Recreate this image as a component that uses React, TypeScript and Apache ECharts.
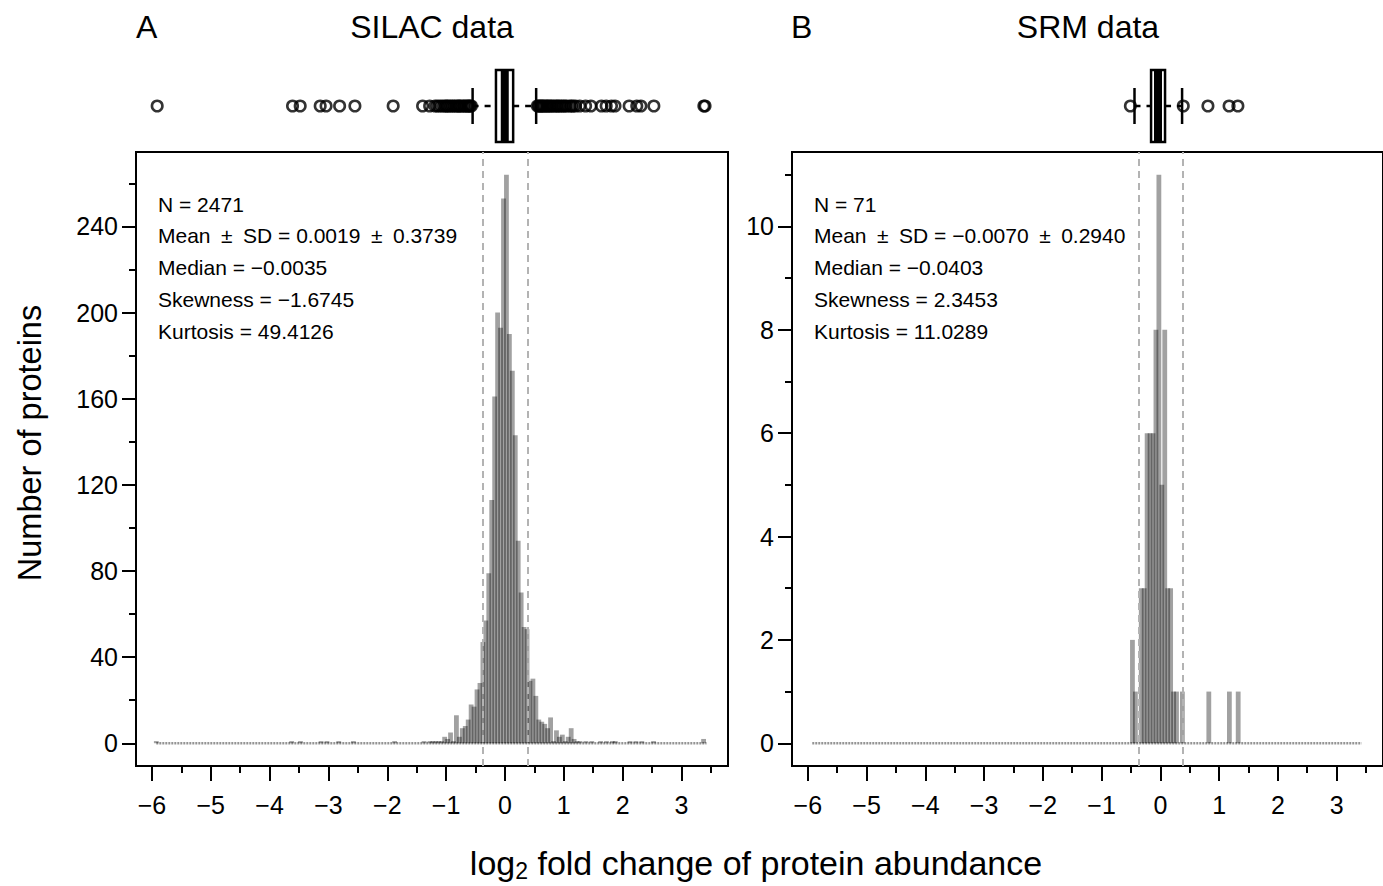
import React, { useEffect, useRef } from "react";
import * as echarts from "echarts";

const FONT = "'Liberation Sans', Arial, Helvetica, sans-serif";

// ---------- axes ----------
const xRange = [-6.27, 3.79];
const xMajorTicks = [-6, -5, -4, -3, -2, -1, 0, 1, 2, 3];
const xMinorTicks = [-5.5, -4.5, -3.5, -2.5, -1.5, -0.5, 0.5, 1.5, 2.5, 3.5];

const silacYRange = [-10.56, 274.56];
const silacYMajor = [0, 40, 80, 120, 160, 200, 240];
const silacYMinor = [20, 60, 100, 140, 180, 220, 260];

const srmYRange = [-0.44, 11.44];
const srmYMajor = [0, 2, 4, 6, 8, 10];
const srmYMinor = [1, 3, 5, 7, 9, 11];

// ---------- histogram data (bin width 0.05) ----------
const binRange = [-5.925, 3.425];

const silacBinCenters = [
  -5.925, -3.625, -3.475, -3.125, -3.025, -2.825, -2.575, -1.875, -1.375, -1.275,
  -1.225, -1.175, -1.125, -1.075, -1.025, -0.975, -0.925, -0.875, -0.825, -0.775,
  -0.725, -0.675, -0.625, -0.575, -0.525, -0.475, -0.425, -0.375, -0.325, -0.275,
  -0.225, -0.175, -0.125, -0.075, -0.025, 0.025, 0.075, 0.125, 0.175, 0.225,
  0.275, 0.325, 0.375, 0.425, 0.475, 0.525, 0.575, 0.625, 0.675, 0.725,
  0.775, 0.825, 0.875, 0.925, 0.975, 1.025, 1.075, 1.125, 1.175, 1.225,
  1.275, 1.375, 1.475, 1.625, 1.725, 1.825, 1.875, 2.125, 2.225, 2.325,
  2.525, 3.375,
];
const silacCounts = [
  1, 1, 1, 1, 1, 1, 1, 1, 1, 1,
  1, 1, 1, 1, 3, 2, 5, 1, 13, 3,
  7, 8, 11, 18, 17, 25, 28, 47, 57, 79,
  113, 161, 200, 193, 253, 264, 190, 173, 143, 94,
  70, 54, 53, 29, 30, 22, 11, 10, 9, 7,
  12, 1, 6, 3, 4, 1, 3, 7, 2, 1,
  1, 1, 1, 1, 1, 1, 1, 1, 1, 1,
  1, 2,
];

const srmBinCenters = [
  -0.475, -0.425, -0.325, -0.275, -0.225, -0.175, -0.125, -0.075, -0.025, 0.025,
  0.075, 0.125, 0.175, 0.225, 0.275, 0.375, 0.825, 1.175, 1.325,
];
const srmCounts = [
  2, 1, 3, 3, 6, 6, 6, 8, 11, 5,
  8, 3, 3, 1, 1, 1, 1, 1, 1,
];

// mean ± SD reference lines (SILAC)
const sdLimits = [-0.372, 0.3758];

// ---------- box plots: [lower whisker, Q1, median, Q3, upper whisker] ----------
const silacBox = [-0.55, -0.153, -0.0035, 0.139, 0.53];
const srmBox = [-0.44, -0.158, -0.0403, 0.08, 0.37];

const silacOutliers = [
  -5.91, -3.61, -3.48, -3.14, -3.04, -2.81, -2.55, -1.9, -1.4, -1.28,
  -1.19, -1.15, -1.11, -1.07, -1.03, -1.0, -0.98, -0.95, -0.92, -0.89,
  -0.86, -0.83, -0.8, -0.78, -0.76, -0.73, -0.7, -0.68, -0.65, -0.63,
  -0.61, -0.59, -0.57,
  0.55, 0.57, 0.59, 0.61, 0.63, 0.65, 0.67, 0.7, 0.72, 0.74,
  0.77, 0.79, 0.82, 0.85, 0.88, 0.9, 0.93, 0.96, 0.99, 1.02,
  1.05, 1.1, 1.13, 1.16, 1.2, 1.27, 1.37, 1.46, 1.64, 1.72,
  1.81, 1.87, 2.11, 2.24, 2.31, 2.53, 3.38, 3.4,
];
const srmOutliers = [-0.51, 0.39, 0.81, 1.17, 1.32];

// ---------- texts ----------
const PM = "\u2002\u00B1\u2002";
const silacStats = [
  "N = 2471",
  "Mean" + PM + "SD = 0.0019" + PM + "0.3739",
  "Median = \u22120.0035",
  "Skewness = \u22121.6745",
  "Kurtosis = 49.4126",
];
const srmStats = [
  "N = 71",
  "Mean" + PM + "SD = \u22120.0070" + PM + "0.2940",
  "Median = \u22120.0403",
  "Skewness = 2.3453",
  "Kurtosis = 11.0289",
];

const fmt = (v: number) => (v < 0 ? "\u2212" + Math.abs(v) : String(v));

function xAxes(gridIndex: number) {
  return [
    {
      type: "value", gridIndex, min: xRange[0], max: xRange[1], position: "bottom",
      axisLine: { show: false, onZero: false },
      axisTick: { show: true, length: 15, customValues: xMajorTicks, lineStyle: { color: "#000", width: 2 } },
      axisLabel: { customValues: xMajorTicks, formatter: fmt, fontSize: 25, color: "#000", fontFamily: FONT, margin: 26 },
      splitLine: { show: false },
    },
    {
      type: "value", gridIndex, min: xRange[0], max: xRange[1], position: "bottom",
      axisLine: { show: false, onZero: false },
      axisTick: { show: true, length: 7, customValues: xMinorTicks, lineStyle: { color: "#000", width: 2 } },
      axisLabel: { show: false },
      splitLine: { show: false },
    },
  ];
}

function yAxes(gridIndex: number, range: number[], major: number[], minor: number[]) {
  return [
    {
      type: "value", gridIndex, min: range[0], max: range[1], position: "left",
      axisLine: { show: false, onZero: false },
      axisTick: { show: true, length: 14, customValues: major, lineStyle: { color: "#000", width: 2 } },
      axisLabel: { customValues: major, fontSize: 25, color: "#000", fontFamily: FONT, margin: 18 },
      splitLine: { show: false },
    },
    {
      type: "value", gridIndex, min: range[0], max: range[1], position: "left",
      axisLine: { show: false, onZero: false },
      axisTick: { show: true, length: 7, customValues: minor, lineStyle: { color: "#000", width: 2 } },
      axisLabel: { show: false },
      splitLine: { show: false },
    },
  ];
}

function histSeries(axisIndex: number, centers: number[], counts: number[]) {
  return [
    {
      type: "line", xAxisIndex: axisIndex, yAxisIndex: axisIndex, z: 1,
      data: [[binRange[0], 0], [binRange[1], 0]],
      symbol: "none", silent: true,
      lineStyle: { color: "rgba(0,0,0,0.42)", width: 2.5, type: [2, 1] },
    },
    {
      type: "bar", xAxisIndex: axisIndex, yAxisIndex: axisIndex, z: 2,
      data: centers.map((c, i) => [c, counts[i]]),
      barWidth: 4.8, silent: true,
      itemStyle: { color: "rgba(0,0,0,0.37)" },
      markLine: {
        silent: true, symbol: ["none", "none"], label: { show: false },
        lineStyle: { color: "#b3b3b3", width: 2, type: [7, 5] },
        data: sdLimits.map((v) => ({ xAxis: v })),
      },
    },
  ];
}

function boxSeries(axisIndex: number, box: number[], outliers: number[]) {
  return [
    {
      type: "custom", xAxisIndex: axisIndex, yAxisIndex: axisIndex, silent: true,
      data: [box],
      renderItem: (_p: any, api: any) => {
        const lo = api.value(0), q1 = api.value(1), med = api.value(2), q3 = api.value(3), hi = api.value(4);
        const X = (v: number) => api.coord([v, 0.5])[0];
        const cy = api.coord([0, 0.5])[1];
        const bh = 36, ch = 18;
        const st = { stroke: "#000", lineWidth: 2.5, fill: null };
        return {
          type: "group",
          children: [
            { type: "line", shape: { x1: X(lo), y1: cy, x2: X(q1), y2: cy }, style: { ...st, lineDash: [6, 6] } },
            { type: "line", shape: { x1: X(q3), y1: cy, x2: X(hi), y2: cy }, style: { ...st, lineDash: [6, 6] } },
            { type: "line", shape: { x1: X(lo), y1: cy - ch, x2: X(lo), y2: cy + ch }, style: st },
            { type: "line", shape: { x1: X(hi), y1: cy - ch, x2: X(hi), y2: cy + ch }, style: st },
            { type: "rect", shape: { x: X(q1), y: cy - bh, width: X(q3) - X(q1), height: 2 * bh }, style: { stroke: "#000", lineWidth: 2.5, fill: "#fff" } },
            { type: "line", shape: { x1: X(med), y1: cy - bh, x2: X(med), y2: cy + bh }, style: { stroke: "#000", lineWidth: 8 } },
          ],
        };
      },
    },
    {
      type: "scatter", xAxisIndex: axisIndex, yAxisIndex: axisIndex, silent: true,
      data: outliers.map((v) => [v, 0.5]),
      symbol: "circle", symbolSize: 10.5,
      itemStyle: { color: "rgba(255,255,255,0)", borderColor: "#000", borderWidth: 2.6 },
    },
  ];
}

function statTexts(x: number, lines: string[]) {
  return lines.map((t, i) => ({
    type: "text", x, y: 204 + i * 31.8,
    style: { text: t, fontSize: 21, fontFamily: FONT, fill: "#000", align: "left", verticalAlign: "middle" },
  }));
}

export default function App() {
  const ref = useRef<HTMLDivElement>(null);
  useEffect(() => {
    if (!ref.current) return;
    const chart = echarts.init(ref.current, null, { renderer: "svg" });
    const hidden = (gridIndex: number, min: number, max: number) => ({
      type: "value", gridIndex, min, max, show: false,
      axisLine: { show: false, onZero: false }, axisTick: { show: false }, axisLabel: { show: false }, splitLine: { show: false },
    });
    chart.setOption({
      animation: false,
      backgroundColor: "#fff",
      textStyle: { fontFamily: FONT },
      grid: [
        { left: 136, top: 152, width: 592, height: 614, show: true, borderColor: "#000", borderWidth: 2, backgroundColor: "transparent" },
        { left: 792, top: 152, width: 592, height: 614, show: true, borderColor: "#000", borderWidth: 2, backgroundColor: "transparent" },
        { left: 136, top: 60, width: 592, height: 92 },
        { left: 792, top: 60, width: 592, height: 92 },
      ],
      xAxis: [
        ...xAxes(0), // 0,1
        ...xAxes(1), // 2,3
        hidden(2, xRange[0], xRange[1]), // 4
        hidden(3, xRange[0], xRange[1]), // 5
      ],
      yAxis: [
        ...yAxes(0, silacYRange, silacYMajor, silacYMinor),
        ...yAxes(1, srmYRange, srmYMajor, srmYMinor),
        hidden(2, 0, 1),
        hidden(3, 0, 1),
      ],
      series: [
        ...histSeries(0, silacBinCenters, silacCounts),
        ...histSeries(2, srmBinCenters, srmCounts),
        ...boxSeries(4, silacBox, silacOutliers),
        ...boxSeries(5, srmBox, srmOutliers),
      ],
      graphic: [
        { type: "text", x: 136, y: 27, style: { text: "A", fontSize: 32, fontFamily: FONT, fill: "#000", align: "left", verticalAlign: "middle" } },
        { type: "text", x: 432, y: 27, style: { text: "SILAC data", fontSize: 32, fontFamily: FONT, fill: "#000", align: "center", verticalAlign: "middle" } },
        { type: "text", x: 791, y: 27, style: { text: "B", fontSize: 32, fontFamily: FONT, fill: "#000", align: "left", verticalAlign: "middle" } },
        { type: "text", x: 1088, y: 27, style: { text: "SRM data", fontSize: 32, fontFamily: FONT, fill: "#000", align: "center", verticalAlign: "middle" } },
        ...statTexts(158, silacStats),
        ...statTexts(814, srmStats),
        {
          type: "text", x: 30, y: 443, rotation: Math.PI / 2,
          style: { text: "Number of proteins", fontSize: 32.5, fontFamily: FONT, fill: "#000", align: "center", verticalAlign: "middle" },
        },
        {
          type: "text", x: 756, y: 864,
          style: {
            text: "{a|log}{s|2}{a| fold change of protein abundance}",
            align: "center", verticalAlign: "middle", fill: "#000",
            rich: {
              a: { fontSize: 34, fontFamily: FONT, lineHeight: 36, verticalAlign: "top", fill: "#000" },
              s: { fontSize: 23, fontFamily: FONT, lineHeight: 18, verticalAlign: "bottom", fill: "#000" },
            },
          },
        },
      ],
    });
    return () => chart.dispose();
  }, []);
  return <div ref={ref} style={{ position: "fixed", left: 0, top: 0, width: 1383, height: 886 }} />;
}
